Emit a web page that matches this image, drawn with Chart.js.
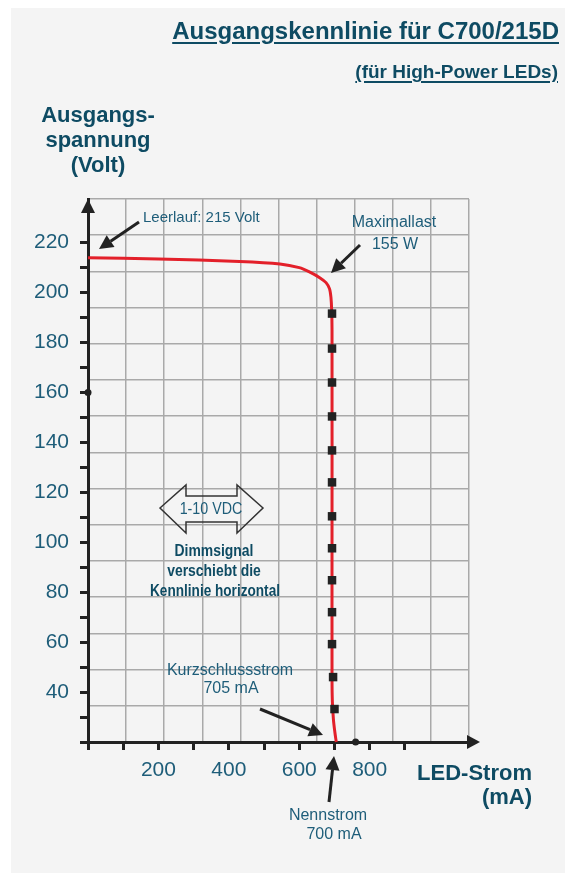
<!DOCTYPE html>
<html lang="de">
<head>
<meta charset="utf-8">
<title>Ausgangskennlinie für C700/215D</title>
<script src="https://cdn.jsdelivr.net/npm/chart.js@4.4.1/dist/chart.umd.min.js"></script>
<style>
  html, body { margin:0; padding:0; background:#fff; }
  #wrap { position:relative; width:565px; height:873px; overflow:hidden; }
  #panel { position:absolute; left:11px; top:8px; right:0; bottom:0; background:#f4f4f4; }
  #chart { position:absolute; left:0; top:0; }
  .lbl { position:absolute; font-family:"Liberation Sans", Arial, sans-serif; font-weight:bold; color:#0e4b63; white-space:nowrap; }
  #title { right:6px; top:18.5px; font-size:24px; line-height:24px; text-decoration:underline; text-decoration-thickness:2px; text-underline-offset:3px; }
  #subtitle { right:7px; top:62px; font-size:19px; line-height:19px; text-decoration:underline; text-decoration-thickness:2px; text-underline-offset:3px; }
  #ytitle { left:8px; width:180px; top:102px; font-size:22px; line-height:25px; text-align:center; }
  #xtitle { right:33px; top:761px; font-size:22px; line-height:24px; text-align:right; }
</style>
</head>
<body>
<div id="wrap">
  <div id="panel"></div>
  <canvas id="chart" width="565" height="873"></canvas>
  <div class="lbl" id="title">Ausgangskennlinie für C700/215D</div>
  <div class="lbl" id="subtitle">(für High-Power LEDs)</div>
  <div class="lbl" id="ytitle">Ausgangs-<br>spannung<br>(Volt)</div>
  <div class="lbl" id="xtitle">LED-Strom<br>(mA)</div>
</div>
<script>
// -----------------------
// Data
// -----------------------
const curveCurrent = [0, 200, 430, 545, 600, 630, 658, 676, 686, 690, 692, 693, 693, 693, 694, 697, 701, 705];
const curveVoltage = [214, 213.5, 212.5, 211.5, 210, 208.2, 206, 204, 201.5, 198, 193, 185, 100, 45, 36, 29, 24, 20];

const markCurrent = [693, 693, 693, 693, 693, 693, 693, 693, 693, 693, 693, 696, 700];
const markVoltage = [191.6, 177.6, 164, 150.4, 136.8, 124, 110.4, 97.6, 84.8, 72, 59.2, 46, 33.2];

const refCurrent = [0, 760];
const refVoltage = [160, 20];

const xTickLabels = [200, 400, 600, 800];
const yTickLabels = [40, 60, 80, 100, 120, 140, 160, 180, 200, 220];

const toPoints = (xs, ys) => xs.map((x, i) => ({ x: x, y: ys[i] }));

// -----------------------
// Colours
// -----------------------
const INK = '#222222';
const TEAL = '#1e5d79';
const TEAL_DARK = '#0e4b63';
const GRID = '#a9a9a9';
const RED = '#e3202a';

// -----------------------
// Drawing helpers
// -----------------------
function arrow(ctx, x1, y1, x2, y2) {
  const a = Math.atan2(y2 - y1, x2 - x1);
  const len = 14, half = 7;
  const bx = x2 - len * Math.cos(a), by = y2 - len * Math.sin(a);
  ctx.strokeStyle = INK; ctx.fillStyle = INK; ctx.lineWidth = 3;
  ctx.beginPath(); ctx.moveTo(x1, y1); ctx.lineTo(bx, by); ctx.stroke();
  ctx.beginPath();
  ctx.moveTo(x2, y2);
  ctx.lineTo(bx + half * Math.sin(a), by - half * Math.cos(a));
  ctx.lineTo(bx - half * Math.sin(a), by + half * Math.cos(a));
  ctx.closePath(); ctx.fill();
}

function text(ctx, str, x, y, font, align, color, sx) {
  ctx.save();
  ctx.font = font;
  ctx.fillStyle = color;
  ctx.textAlign = align;
  ctx.textBaseline = 'alphabetic';
  ctx.translate(x, y);
  ctx.scale(sx || 1, 1);
  ctx.fillText(str, 0, 0);
  ctx.restore();
}

const FONT = '"Liberation Sans", Arial, sans-serif';

const decorPlugin = {
  id: 'decor',
  afterDraw(chart) {
    const ctx = chart.ctx;
    const a = chart.chartArea;
    ctx.save();

    // axis arrow heads
    ctx.fillStyle = INK; ctx.strokeStyle = INK; ctx.lineWidth = 3;
    ctx.beginPath(); ctx.moveTo(a.right - 2, a.bottom); ctx.lineTo(a.right + 2, a.bottom); ctx.stroke();
    ctx.beginPath();
    ctx.moveTo(a.left, a.top); ctx.lineTo(a.left - 7, a.top + 14); ctx.lineTo(a.left + 7, a.top + 14);
    ctx.closePath(); ctx.fill();
    ctx.beginPath();
    ctx.moveTo(a.right + 11, a.bottom); ctx.lineTo(a.right - 2, a.bottom - 7); ctx.lineTo(a.right - 2, a.bottom + 7);
    ctx.closePath(); ctx.fill();

    // annotations
    text(ctx, 'Leerlauf: 215 Volt', 143, 222, '15px ' + FONT, 'left', TEAL);
    arrow(ctx, 139, 222, 99, 249);

    text(ctx, 'Maximallast', 394, 227, '16px ' + FONT, 'center', TEAL);
    text(ctx, '155 W', 395, 249, '16px ' + FONT, 'center', TEAL);
    arrow(ctx, 360, 245, 331, 273);

    text(ctx, 'Kurzschlussstrom', 230, 675, '16px ' + FONT, 'center', TEAL);
    text(ctx, '705 mA', 231, 693, '16px ' + FONT, 'center', TEAL);
    arrow(ctx, 260, 709, 323, 735);

    text(ctx, 'Nennstrom', 328, 820, '16px ' + FONT, 'center', TEAL);
    text(ctx, '700 mA', 334, 839, '16px ' + FONT, 'center', TEAL);
    arrow(ctx, 329, 802, 334, 756);

    // double arrow for the dimming signal
    ctx.strokeStyle = '#333'; ctx.lineWidth = 1.5;
    ctx.beginPath();
    ctx.moveTo(160, 508); ctx.lineTo(186, 485); ctx.lineTo(186, 496); ctx.lineTo(237, 496);
    ctx.lineTo(237, 485); ctx.lineTo(263, 508); ctx.lineTo(237, 533); ctx.lineTo(237, 522);
    ctx.lineTo(186, 522); ctx.lineTo(186, 533); ctx.closePath();
    ctx.stroke();
    text(ctx, '1-10 VDC', 211, 514, '17px ' + FONT, 'center', TEAL, 0.84);

    text(ctx, 'Dimmsignal', 214, 556, 'bold 16px ' + FONT, 'center', TEAL_DARK, 0.87);
    text(ctx, 'verschiebt die', 214, 576, 'bold 16px ' + FONT, 'center', TEAL_DARK, 0.87);
    text(ctx, 'Kennlinie horizontal', 215, 596, 'bold 16px ' + FONT, 'center', TEAL_DARK, 0.85);

    ctx.restore();
  }
};

// -----------------------
// Chart
// -----------------------
new Chart(document.getElementById('chart'), {
  type: 'scatter',
  data: {
    datasets: [
      {
        label: 'Messpunkte',
        data: toPoints(markCurrent, markVoltage),
        pointStyle: 'rect', pointRadius: 6, pointBorderWidth: 0,
        backgroundColor: INK, borderColor: INK,
        showLine: false, order: 0, clip: false
      },
      {
        label: 'Referenz',
        data: toPoints(refCurrent, refVoltage),
        pointRadius: 3.5, pointBorderWidth: 0,
        backgroundColor: INK, borderColor: INK,
        showLine: false, order: 0, clip: false
      },
      {
        label: 'Kennlinie',
        data: toPoints(curveCurrent, curveVoltage),
        showLine: true, borderColor: RED, borderWidth: 3,
        pointRadius: 0, tension: 0.3, order: 1, clip: false
      }
    ]
  },
  options: {
    responsive: false,
    animation: false,
    devicePixelRatio: 1,
    layout: { padding: { left: 11, top: 199, right: 96, bottom: 91 } },
    plugins: { legend: { display: false }, tooltip: { enabled: false }, title: { display: false } },
    scales: {
      x: {
        type: 'linear', min: 0, max: 1082,
        afterBuildTicks: s => { s.ticks = s.ticks.filter(t => t.value % 100 === 0 && t.value <= 1000); },
        afterFit: s => { s.height = 40; },
        ticks: {
          stepSize: 100, autoSkip: false, maxRotation: 0, padding: 8,
          color: TEAL, font: { family: FONT, size: 21 },
          callback: v => xTickLabels.includes(v) ? String(v) : ''
        },
        grid: { drawOnChartArea: false, drawTicks: true, tickLength: 8, color: INK, lineWidth: 3 },
        border: { display: true, color: INK, width: 3 }
      },
      y: {
        type: 'linear', min: 20, max: 237.5,
        afterBuildTicks: s => { s.ticks = s.ticks.filter(t => t.value % 10 === 0 && t.value <= 220); },
        afterFit: s => { s.width = 77; },
        ticks: {
          stepSize: 10, autoSkip: false, padding: 11,
          color: TEAL, font: { family: FONT, size: 21 },
          callback: v => yTickLabels.includes(v) ? String(v) : ''
        },
        grid: { drawOnChartArea: false, drawTicks: true, tickLength: 8, color: INK, lineWidth: 3 },
        border: { display: true, color: INK, width: 3 }
      },
      gx: {
        type: 'linear', position: 'top', min: 0, max: 10,
        afterFit: s => { s.height = 0; },
        ticks: { display: false, stepSize: 1 },
        grid: { drawTicks: false, color: GRID, lineWidth: 1.5 },
        border: { display: false }
      },
      gy: {
        type: 'linear', position: 'right', min: 0, max: 15,
        afterFit: s => { s.width = 0; },
        ticks: { display: false, stepSize: 1 },
        grid: { drawTicks: false, color: GRID, lineWidth: 1.5 },
        border: { display: false }
      }
    }
  },
  plugins: [decorPlugin]
});
</script>
</body>
</html>
